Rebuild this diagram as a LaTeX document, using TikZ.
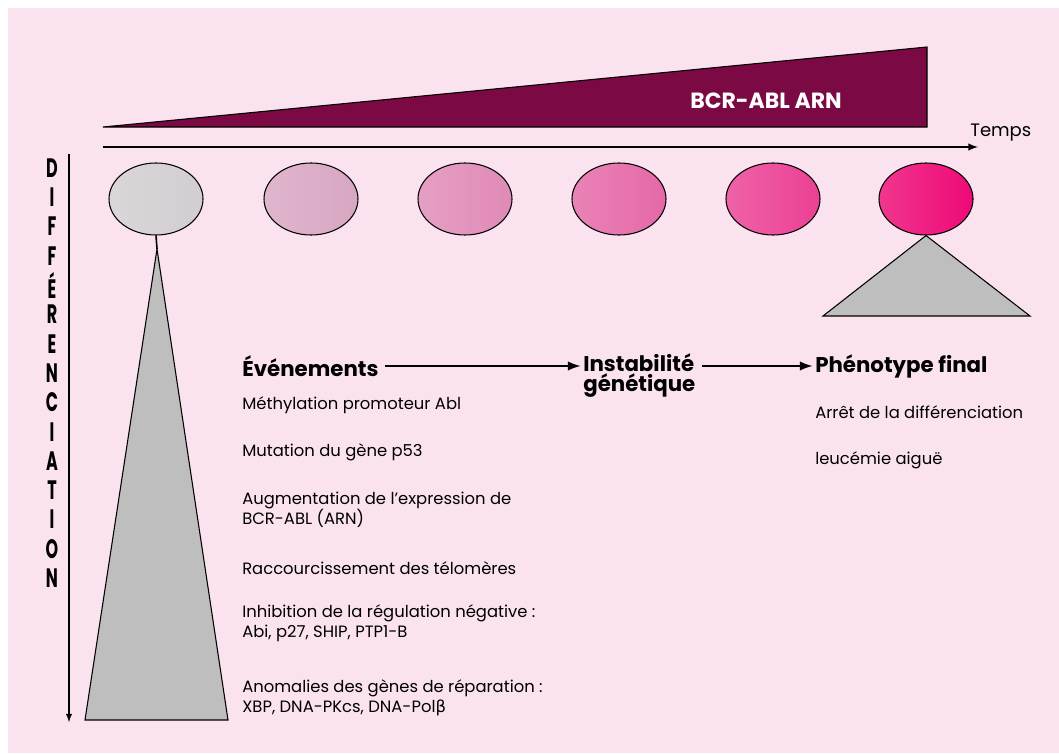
\documentclass[tikz,border=0pt]{standalone}
\usepackage{graphicx}
\usepackage{fontspec}
\setmainfont{Poppins}
\newfontfamily\grkfont{DejaVu Sans}
\usepackage{tikz}
\usetikzlibrary{arrows,shapes}

\definecolor{fond}{HTML}{FAE3EF}
\definecolor{arn}{HTML}{7B0A44}
\definecolor{cone}{HTML}{BEBEBE}
\definecolor{cellA}{HTML}{D2CDD0}
\definecolor{cellB}{HTML}{D8A6C2}
\definecolor{cellC}{HTML}{E08AB7}
\definecolor{cellD}{HTML}{E568A7}
\definecolor{cellE}{HTML}{EB4094}
\definecolor{cellF}{HTML}{EE0A76}

\tikzset{
  cell/.style={ellipse,draw=black,line width=0.8pt,minimum width=70.5pt,minimum height=54pt,inner sep=0pt},
  titre/.style={font=\bfseries\fontsize{16}{15}\selectfont,inner sep=0pt,align=left},
  item/.style={font=\fontsize{12.3}{15}\selectfont,inner sep=0pt,align=left,anchor=west},
  lettre/.style={font=\bfseries\fontsize{20}{20}\selectfont,inner sep=0pt},
  fleche/.style={-latex,line width=2.2pt},
  cone/.style={fill=cone,draw=black,line width=0.8pt}
}

\begin{document}
\begin{tikzpicture}[x=0.75pt,y=-0.75pt]
	\useasboundingbox (0,0) rectangle (1059,753);
	\fill[white] (0,0) rectangle (1059,753);
	\fill[fond] (8,8) rectangle (1059,753);
	% BCR-ABL wedge and time axis
	\filldraw[fill=arn,draw=black,line width=0.8pt] (103,127) -- (927,127) -- (927,47) -- cycle;
	\node[font=\bfseries\fontsize{16.5}{16.5}\selectfont,text=white] (bcr) at (766,101) {BCR-ABL ARN};
	\coordinate (t0) at (103,147);
	\coordinate (t1) at (978,147);
	\draw[-latex,line width=1.5pt] (t0) -- (t1);
	\node[font=\fontsize{13.5}{13.5}\selectfont,anchor=west,inner sep=0pt] (temps) at (970,133) {Temps};
	% cells
	\foreach \i/\x/\c in {1/156/cellA,2/311/cellB,3/465/cellC,4/619/cellD,5/773/cellE,6/926/cellF}
	  \node[cell,left color=\c!82!white,right color=\c] (c\i) at (\x,199) {};
	% differentiation axis
	\coordinate (d0) at (69,154);
	\coordinate (d1) at (69,722);
	\draw[-latex,line width=1.1pt] (d0) -- (d1);
	\foreach \l [count=\k from 0] in {D,I,F,F,É,R,E,N,C,I,A,T,I,O,N}
	  \node[lettre] at (52,168+29.3*\k) {\scalebox{0.6}[1]{\l}};
	% cones
	\coordinate (apexL) at (157,249);
	\draw[line width=1.2pt] (c1.south) -- (apexL);
	\filldraw[cone] (apexL) -- (228,720) -- (85,720) -- cycle;
	\filldraw[cone] (c6.south) -- (1030,316) -- (823,316) -- cycle;
	% headings
	\node[titre,anchor=west] (ev) at (242,366) {Événements};
	\node[titre,anchor=west] (inst) at (583,376) {Instabilité\\génétique};
	\node[titre,anchor=west] (ph) at (815,366) {Phénotype final};
	\draw[fleche,shorten <=5pt,shorten >=2pt] (ev.east) -- (ev.east -| inst.west);
	\draw[fleche,shorten <=5pt,shorten >=2pt] (ev.east -| inst.east) -- (ph.west);
	% events
	\node[item] (m1) at (242,405) {Méthylation promoteur Abl};
	\node[item] (m2) at (242,452) {Mutation du gène p53};
	\node[item] (m3) at (242,510) {Augmentation de l'expression de\\BCR-ABL (ARN)};
	\node[item] (m4) at (242,568) {Raccourcissement des télomères};
	\node[item] (m5) at (242,623) {Inhibition de la régulation négative :\\Abi, p27, SHIP, PTP1-B};
	\node[item] (m6) at (242,698) {Anomalies des gènes de réparation :\\XBP, DNA-PKcs, DNA-Pol{\grkfont β}};
	% final phenotype
	\node[item] (r1) at (815,412) {Arrêt de la différenciation};
	\node[item] (r2) at (815,460) {leucémie aiguë};
\end{tikzpicture}
\end{document}
